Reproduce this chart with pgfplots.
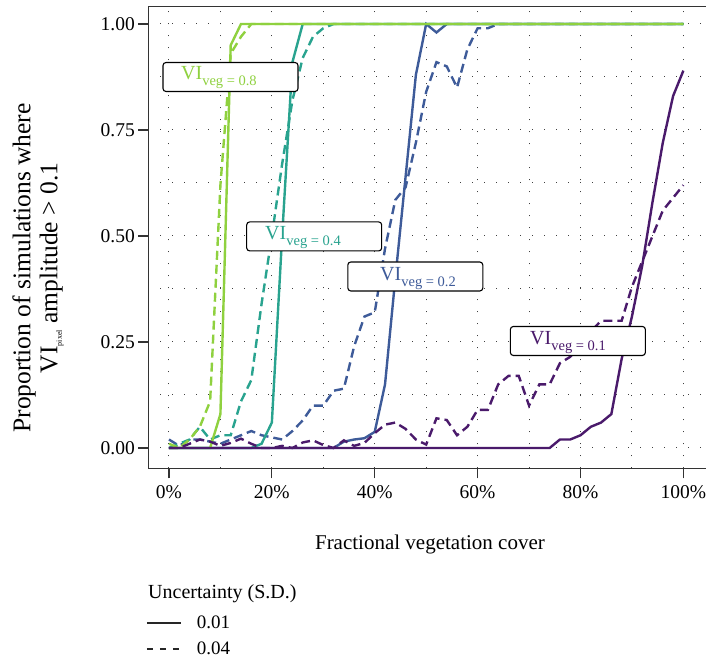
\documentclass[border=0pt]{standalone}
\usepackage{fontspec}
\setmainfont{Liberation Serif}
\usepackage{pgfplots}
\usepackage{pgfplotstable}
\pgfplotsset{compat=1.18}
\definecolor{c08}{HTML}{8FD13F}
\definecolor{c04}{HTML}{29A38F}
\definecolor{c02}{HTML}{3E5B99}
\definecolor{c01}{HTML}{4A1A6B}

\pgfplotstableread{
x   s08   d08   s04   d04   s02   d02   s01   d01
0   0     0.01  0     0.00  0     0.02  0     0.00
2   0     0.00  0     0.01  0     0.005 0     0.00
4   0     0.02  0     0.02  0     0.02  0     0.01
6   0     0.05  0     0.05  0     0.02  0     0.02
8   0     0.11  0     0.02  0     0.015 0     0.015
10  0.08  0.62  0     0.03  0     0.01  0     0.005
12  0.95  0.93  0     0.03  0     0.02  0     0.012
14  1.0   0.97  0     0.11  0     0.03  0     0.022
16  1.0   1.0   0     0.16  0     0.04  0     0.01
18  1.0   1.0   0.01  0.34  0     0.03  0     0.0
20  1.0   1.0   0.06  0.50  0     0.025 0     0.0
22  1.0   1.0   0.50  0.67  0     0.02  0     0.005
24  1.0   1.0   0.91  0.82  0     0.04  0     0.0
26  1.0   1.0   1.0   0.92  0     0.065 0     0.013
28  1.0   1.0   1.0   0.97  0     0.10  0     0.018
30  1.0   1.0   1.0   0.99  0     0.10  0     0.007
32  1.0   1.0   1.0   1.0   0     0.135 0     0.0
34  1.0   1.0   1.0   1.0   0.015 0.14  0     0.018
36  1.0   1.0   1.0   1.0   0.02  0.24  0     0.005
38  1.0   1.0   1.0   1.0   0.023 0.31  0     0.012
40  1.0   1.0   1.0   1.0   0.038 0.32  0     0.035
42  1.0   1.0   1.0   1.0   0.15  0.47  0     0.055
44  1.0   1.0   1.0   1.0   0.40  0.585 0     0.06
46  1.0   1.0   1.0   1.0   0.64  0.615 0     0.045
48  1.0   1.0   1.0   1.0   0.88  0.72  0     0.02
50  1.0   1.0   1.0   1.0   1.0   0.84  0     0.008
52  1.0   1.0   1.0   1.0   0.98  0.91  0     0.07
54  1.0   1.0   1.0   1.0   1.0   0.90  0     0.066
56  1.0   1.0   1.0   1.0   1.0   0.85  0     0.03
58  1.0   1.0   1.0   1.0   1.0   0.94  0     0.05
60  1.0   1.0   1.0   1.0   1.0   0.99  0     0.09
62  1.0   1.0   1.0   1.0   1.0   0.99  0     0.09
64  1.0   1.0   1.0   1.0   1.0   1.0   0     0.15
66  1.0   1.0   1.0   1.0   1.0   1.0   0     0.17
68  1.0   1.0   1.0   1.0   1.0   1.0   0     0.17
70  1.0   1.0   1.0   1.0   1.0   1.0   0     0.10
72  1.0   1.0   1.0   1.0   1.0   1.0   0     0.15
74  1.0   1.0   1.0   1.0   1.0   1.0   0     0.15
76  1.0   1.0   1.0   1.0   1.0   1.0   0.02  0.20
78  1.0   1.0   1.0   1.0   1.0   1.0   0.02  0.215
80  1.0   1.0   1.0   1.0   1.0   1.0   0.03  0.24
82  1.0   1.0   1.0   1.0   1.0   1.0   0.05  0.275
84  1.0   1.0   1.0   1.0   1.0   1.0   0.06  0.30
86  1.0   1.0   1.0   1.0   1.0   1.0   0.08  0.30
88  1.0   1.0   1.0   1.0   1.0   1.0   0.21  0.30
90  1.0   1.0   1.0   1.0   1.0   1.0   0.31  0.38
92  1.0   1.0   1.0   1.0   1.0   1.0   0.43  0.44
94  1.0   1.0   1.0   1.0   1.0   1.0   0.58  0.50
96  1.0   1.0   1.0   1.0   1.0   1.0   0.72  0.56
98  1.0   1.0   1.0   1.0   1.0   1.0   0.83  0.59
100 1.0   1.0   1.0   1.0   1.0   1.0   0.89  0.62
}\data

\begin{document}
\begin{tikzpicture}
\begin{axis}[
  at={(148.3pt,190.7pt)}, anchor=south west,
  scale only axis, width=557.7pt, height=461.6pt,
  xmin=-4.02, xmax=104.4, ymin=-0.0479, ymax=1.0408,
  clip=false,
  axis lines=left,
  axis line style={-, line width=1.2pt, black!80},
  tick align=outside, major tick length=10pt, minor tick length=0pt,
  tick style={line width=1.2pt, black!80},
  xtick={0,20,40,60,80,100},
  xticklabels={0\%,20\%,40\%,60\%,80\%,100\%},
  ytick={0,0.25,0.5,0.75,1},
  yticklabels={0.00,0.25,0.50,0.75,1.00},
  minor x tick num=1, minor y tick num=1,
  grid=both,
  major grid style={black!75, line width=1pt, dash pattern=on 1pt off 11pt},
  minor grid style={black!75, line width=1pt, dash pattern=on 1pt off 11pt},
  ticklabel style={font=\fontsize{19.5}{22}\selectfont},
  xticklabel style={yshift=-4pt},
  xlabel={Fractional vegetation cover},
  xlabel style={at={(axis description cs:0.505,-0.166)}, anchor=center, font=\fontsize{21}{24}\selectfont},
  ylabel={Proportion of simulations where\\VI\raisebox{-4.5pt}{\fontsize{8}{9}\selectfont pixel} amplitude > 0.1},
  ylabel style={at={(axis description cs:-0.198,0.434)}, anchor=center, align=center, font=\fontsize{25.5}{27}\selectfont},
  legend style={at={(axis description cs:-0.004,-0.316)}, anchor=north west, draw=none, fill=none,
    inner sep=0pt, row sep=9pt, font=\fontsize{19}{22}\selectfont, nodes={inner sep=1.5pt}},
  legend cell align=left,
  legend image code/.code={\draw[#1] (0pt,0pt) -- (34pt,0pt);},
]
\addlegendimage{black!85, line width=1.2pt}
\addlegendentry{\hspace{14pt}0.01}
\addlegendimage{black!85, line width=1.2pt, dash pattern=on 6.5pt off 6.5pt}
\addlegendentry{\hspace{14pt}0.04}

\addplot[c02, line width=2.4pt, no marks] table[x=x, y=s02] {\data};
\addplot[c02, line width=2.4pt, no marks, dash pattern=on 9pt off 5pt] table[x=x, y=d02] {\data};
\addplot[c04, line width=2.4pt, no marks] table[x=x, y=s04] {\data};
\addplot[c04, line width=2.4pt, no marks, dash pattern=on 9pt off 5pt] table[x=x, y=d04] {\data};
\addplot[c08, line width=2.4pt, no marks] table[x=x, y=s08] {\data};
\addplot[c08, line width=2.4pt, no marks, dash pattern=on 9pt off 5pt] table[x=x, y=d08] {\data};
\addplot[c01, line width=2.4pt, no marks] table[x=x, y=s01] {\data};
\addplot[c01, line width=2.4pt, no marks, dash pattern=on 9pt off 5pt] table[x=x, y=d01] {\data};

\draw[line width=1.2pt, black!80] (rel axis cs:0,1) -- (rel axis cs:1,1);

% label boxes
\tikzset{lbox/.style={draw=black, line width=1.1pt, fill=white, rounded corners=3pt, minimum width=135pt, minimum height=29pt, inner sep=0pt}}
\node[lbox] at (axis cs:11.96,0.875) {};
\node[anchor=base west, inner sep=0pt, text=c08, font=\fontsize{20}{22}\selectfont] at (axis cs:2.33,0.868) {VI\raisebox{-6pt}{\fontsize{14.5}{16}\selectfont veg = 0.8}};
\node[lbox] at (axis cs:28.23,0.499) {};
\node[anchor=base west, inner sep=0pt, text=c04, font=\fontsize{20}{22}\selectfont] at (axis cs:18.67,0.4906) {VI\raisebox{-6pt}{\fontsize{14.5}{16}\selectfont veg = 0.4}};
\node[lbox] at (axis cs:47.89,0.4045) {};
\node[anchor=base west, inner sep=0pt, text=c02, font=\fontsize{20}{22}\selectfont] at (axis cs:41.03,0.396) {VI\raisebox{-6pt}{\fontsize{14.5}{16}\selectfont veg = 0.2}};
\node[lbox] at (axis cs:79.49,0.2524) {};
\node[anchor=base west, inner sep=0pt, text=c01, font=\fontsize{20}{22}\selectfont] at (axis cs:70.19,0.243) {VI\raisebox{-6pt}{\fontsize{14.5}{16}\selectfont veg = 0.1}};

\node[anchor=base west, inner sep=0pt, font=\fontsize{20}{22}\selectfont] at (axis description cs:-0.0005,-0.281) {Uncertainty (S.D.)};
\end{axis}
\pgfresetboundingbox
\path (0,0) rectangle (706pt,659pt);
\end{tikzpicture}
\end{document}
